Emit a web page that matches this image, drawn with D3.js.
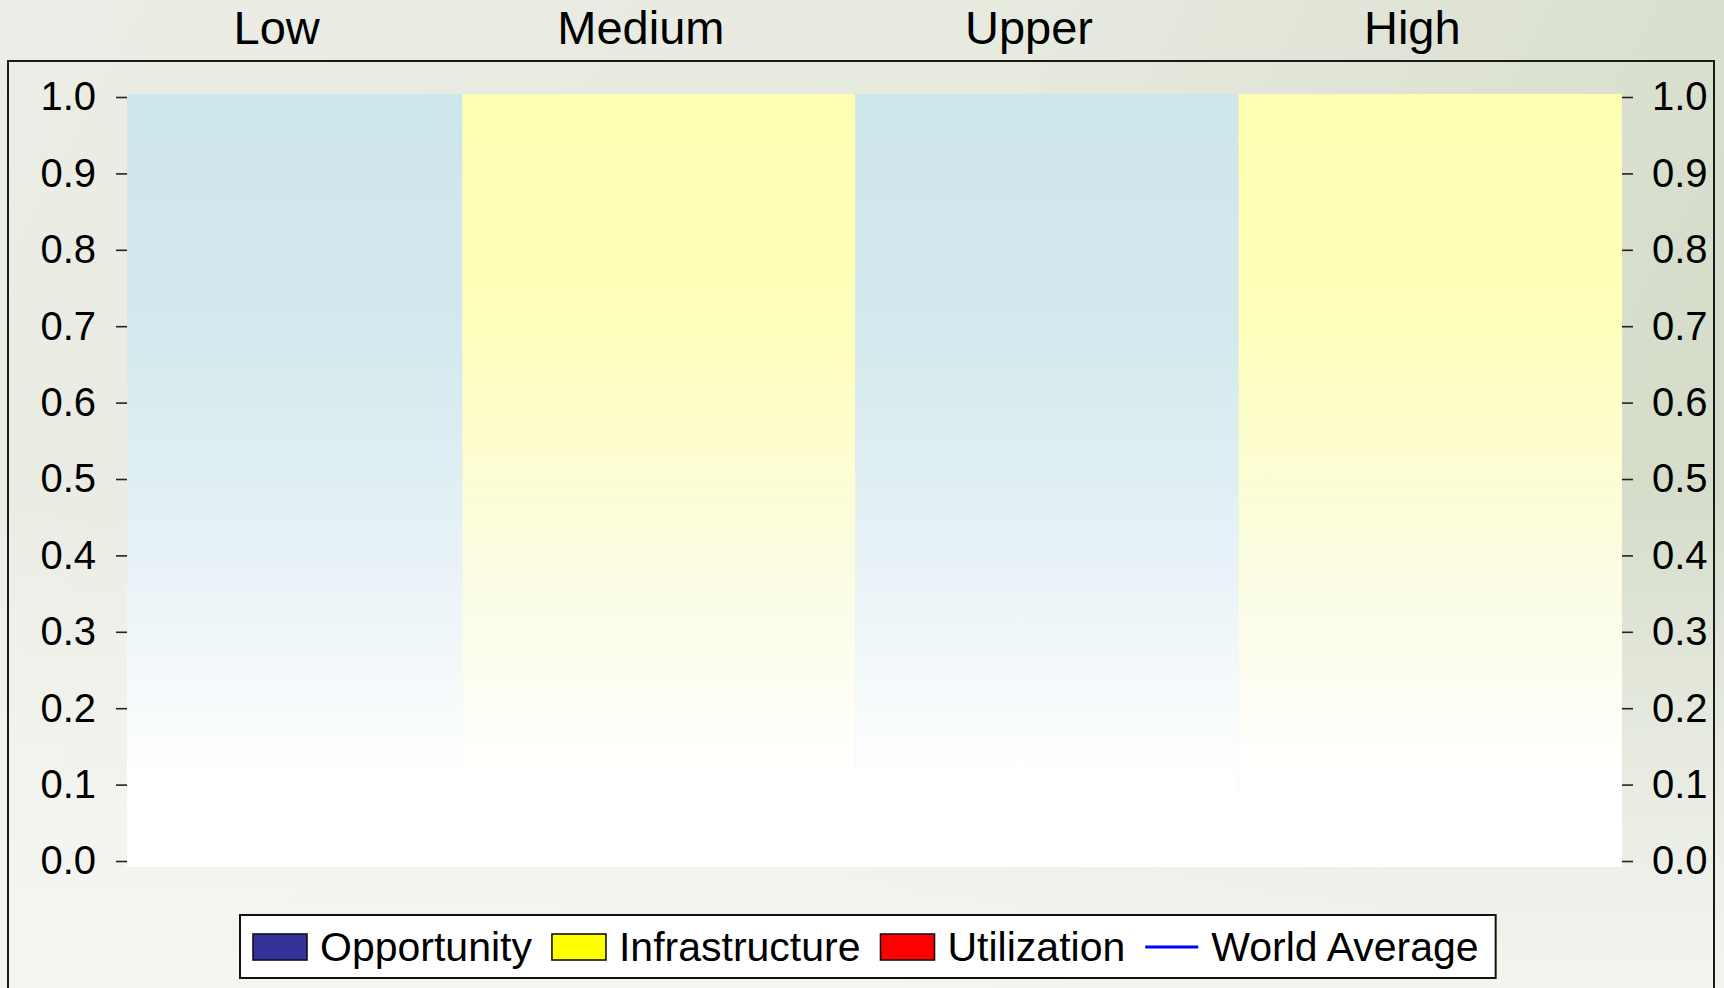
<!doctype html>
<html>
<head>
  <meta charset="utf-8">
  <title>Digital Opportunity by group</title>
  <style>
  body{
    margin: 0;
    overflow: hidden;
    font-family: "Liberation Sans", Arial, Helvetica, sans-serif;
  }
  svg text{
    fill: #000;
  }
  </style>
</head>
<body>
  <svg></svg>

  <script src="https://d3js.org/d3.v7.min.js"></script>
  <script>
  // data
  var groups = ['Low', 'Medium', 'Upper', 'High'];
  var groupCounts = [35, 41, 40, 40];
  var groupColors = ['#cde6ea', '#ffffb3', '#cde6ea', '#ffffb3'];
  var yTicks = [0, 0.1, 0.2, 0.3, 0.4, 0.5, 0.6, 0.7, 0.8, 0.9, 1.0];
  var legendNames = ['Opportunity', 'Infrastructure', 'Utilization', 'World Average'];
  var legendColors = ['#333399', '#ffff00', '#ff0000', '#0000ff'];
  var legendKinds = ['box', 'box', 'box', 'line'];

  var width = 1724;
  var height = 988;
  var plot = { left: 127, right: 1622, top: 94, bottom: 867 };
  var titleShift = -18;

  var svg = d3.select('svg')
    .attr('width', width)
    .attr('height', height);

  var defs = svg.append('defs');

  // slide-like sage background
  var bg = defs.append('linearGradient').attr('id', 'bg')
    .attr('x1', 0).attr('y1', 0).attr('x2', 1).attr('y2', 0.3);
  bg.append('stop').attr('offset', 0).attr('stop-color', '#ecede6');
  bg.append('stop').attr('offset', 0.55).attr('stop-color', '#e7eadf');
  bg.append('stop').attr('offset', 1).attr('stop-color', '#d6ddcb');

  var fog = defs.append('linearGradient').attr('id', 'fog')
    .attr('x1', 0).attr('y1', 0).attr('x2', 0).attr('y2', 1);
  fog.append('stop').attr('offset', 0.5).attr('stop-color', '#ffffff').attr('stop-opacity', 0);
  fog.append('stop').attr('offset', 1).attr('stop-color', '#f7f8f4').attr('stop-opacity', 0.85);

  svg.append('rect').attr('width', width).attr('height', height).attr('fill', 'url(#bg)');
  svg.append('rect').attr('width', width).attr('height', height).attr('fill', 'url(#fog)');

  // frame
  svg.append('rect')
    .attr('x', 8).attr('y', 61)
    .attr('width', 1706).attr('height', 960)
    .attr('fill', 'none')
    .attr('stroke', '#1a1a1a')
    .attr('stroke-width', 2);

  var starts = [0].concat(Array.from(d3.cumsum(groupCounts)));
  var x = d3.scaleLinear()
    .domain([0, d3.sum(groupCounts)])
    .range([plot.left, plot.right]);

  var y = d3.scaleLinear()
    .domain([0, 1])
    .range([861, 97]);

  // fading column fills
  groupColors.forEach(function(c, i){
    var g = defs.append('linearGradient').attr('id', 'zone' + i)
      .attr('x1', 0).attr('y1', 0).attr('x2', 0).attr('y2', 1);
    g.append('stop').attr('offset', 0).attr('stop-color', c);
    g.append('stop').attr('offset', 0.3).attr('stop-color', d3.interpolateRgb(c, '#ffffff')(0.12));
    g.append('stop').attr('offset', 0.6).attr('stop-color', d3.interpolateRgb(c, '#f9fafe')(0.6));
    g.append('stop').attr('offset', 0.88).attr('stop-color', '#ffffff');
    g.append('stop').attr('offset', 1).attr('stop-color', '#ffffff');
  });

  svg.append('g').selectAll('rect')
    .data(groups)
    .enter().append('rect')
      .attr('x', function(d, i){ return x(starts[i]); })
      .attr('width', function(d, i){ return x(starts[i + 1]) - x(starts[i]); })
      .attr('y', plot.top)
      .attr('height', plot.bottom - plot.top)
      .attr('fill', function(d, i){ return 'url(#zone' + i + ')'; });

  // group titles
  svg.append('g').selectAll('text')
    .data(groups)
    .enter().append('text')
      .attr('x', function(d, i){ return (x(starts[i]) + x(starts[i + 1])) / 2 + titleShift; })
      .attr('y', 44)
      .attr('text-anchor', 'middle')
      .style('font-size', '47px')
      .text(function(d){ return d; });

  // axes on both sides
  function styleAxis(g){
    g.select('.domain').remove();
    g.selectAll('.tick line').attr('stroke', '#222').attr('stroke-width', 1.6);
    g.selectAll('.tick text')
      .attr('fill', '#000')
      .style('font-size', '40px')
      .style('font-family', '"Liberation Sans", Arial, sans-serif');
  }

  svg.append('g')
    .attr('transform', 'translate(' + plot.left + ',0)')
    .call(d3.axisLeft(y).tickValues(yTicks).tickSize(11).tickPadding(20).tickFormat(d3.format('.1f')))
    .call(styleAxis);

  svg.append('g')
    .attr('transform', 'translate(' + plot.right + ',0)')
    .call(d3.axisRight(y).tickValues(yTicks).tickSize(11).tickPadding(19).tickFormat(d3.format('.1f')))
    .call(styleAxis);

  // legend
  var legend = svg.append('g');
  var box = legend.append('rect')
    .attr('x', 240).attr('y', 915)
    .attr('height', 63)
    .attr('fill', '#ffffff')
    .attr('stroke', '#111')
    .attr('stroke-width', 2);

  var cx = 253;
  legendNames.forEach(function(name, i){
    if(legendKinds[i] === 'box'){
      legend.append('rect')
        .attr('x', cx).attr('y', 934)
        .attr('width', 54).attr('height', 26)
        .attr('fill', legendColors[i])
        .attr('stroke', '#111')
        .attr('stroke-width', 1.6);
      cx += 54 + 13;
    } else {
      legend.append('line')
        .attr('x1', cx).attr('x2', cx + 53)
        .attr('y1', 947).attr('y2', 947)
        .attr('stroke', legendColors[i])
        .attr('stroke-width', 3);
      cx += 53 + 13;
    }
    var t = legend.append('text')
      .attr('x', cx).attr('y', 961)
      .style('font-size', '41px')
      .text(name);
    cx += t.node().getComputedTextLength() + 20;
  });
  box.attr('width', cx - 20 + 17 - 240);
  </script>
</body>
</html>
